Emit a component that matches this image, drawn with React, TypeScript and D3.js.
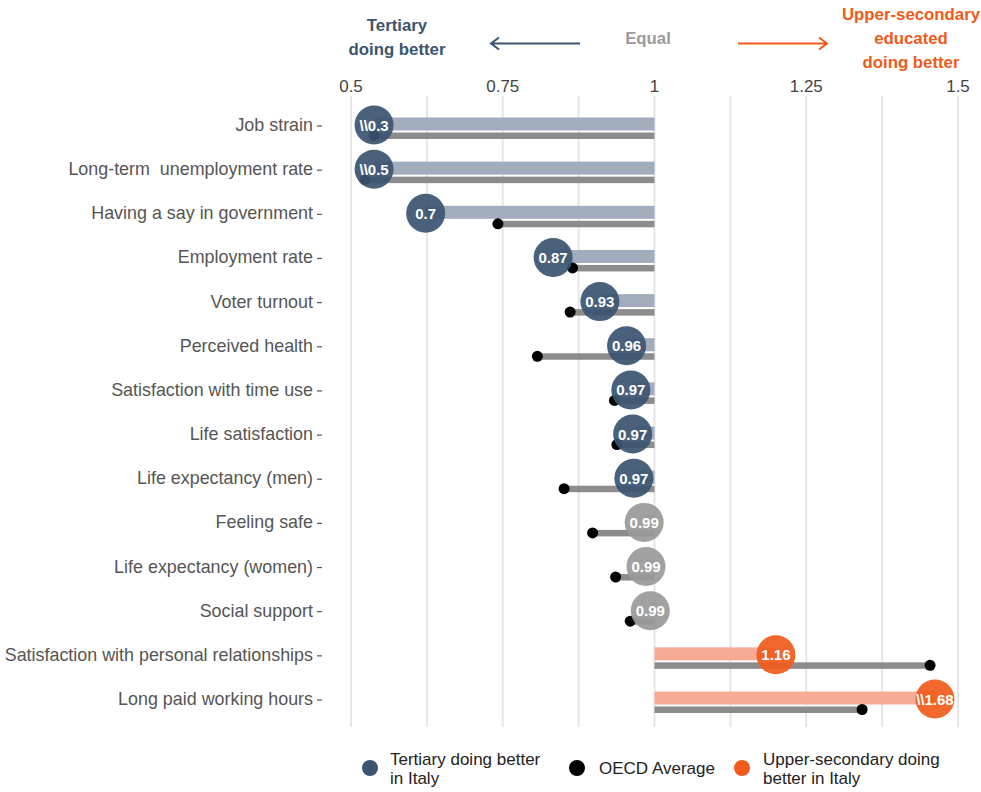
import React, { useEffect, useRef } from "react";
import * as d3 from "d3";

// --- Data ---
const categories = [
  "Job strain",
  "Long-term  unemployment rate",
  "Having a say in government",
  "Employment rate",
  "Voter turnout",
  "Perceived health",
  "Satisfaction with time use",
  "Life satisfaction",
  "Life expectancy (men)",
  "Feeling safe",
  "Life expectancy (women)",
  "Social support",
  "Satisfaction with personal relationships",
  "Long paid working hours",
];
// plotted position of Italy's ratio (clipped values are drawn at the edge)
const italyPos = [0.538, 0.538, 0.623, 0.833, 0.91, 0.954, 0.961, 0.964, 0.966, 0.983, 0.986, 0.993, 1.2, 1.462];
const italyLabels = ["\\\\0.3", "\\\\0.5", "0.7", "0.87", "0.93", "0.96", "0.97", "0.97", "0.97", "0.99", "0.99", "0.99", "1.16", "\\\\1.68"];
const oecdPos = [0.538, 0.523, 0.742, 0.865, 0.861, 0.807, 0.934, 0.938, 0.851, 0.898, 0.936, 0.96, 1.454, 1.342];
const groups = ["tertiary", "tertiary", "tertiary", "tertiary", "tertiary", "tertiary", "tertiary", "tertiary", "tertiary", "equal", "equal", "equal", "upper", "upper"];
const xTicks = [0.5, 0.75, 1, 1.25, 1.5];
const xMinorTicks = [0.625, 0.875, 1.125, 1.375];

const circleColor: Record<string, string> = { tertiary: "#3b5470", equal: "#999999", upper: "#f05a1a" };
const barColor: Record<string, string> = { tertiary: "#a1acbc", equal: "#c8c8c8", upper: "#f7ab93" };

export default function App() {
  const svgRef = useRef<SVGSVGElement>(null);

  useEffect(() => {
    const svg = d3.select(svgRef.current);
    svg.selectAll("*").remove();
    const font = "'Liberation Sans', Arial, sans-serif";
    svg.style("font-family", font);

    const x = d3.scaleLinear().domain([0.5, 1.5]).range([351, 958]);
    const y = d3.scalePoint<string>().domain(categories).range([125, 699]);
    const top = 96, bottom = 727;

    // --- Gridlines ---
    svg.append("g").selectAll("line")
      .data([...xTicks, ...xMinorTicks])
      .join("line")
      .attr("x1", d => x(d)).attr("x2", d => x(d))
      .attr("y1", top).attr("y2", bottom)
      .attr("stroke", "#e6e6e6").attr("stroke-width", 2);

    // --- Top axis ---
    svg.append("g").selectAll("text")
      .data(xTicks)
      .join("text")
      .attr("x", d => x(d)).attr("y", 92)
      .attr("text-anchor", "middle")
      .attr("font-size", 17).attr("fill", "#444")
      .text(d => d3.format("")(d));

    // --- Category labels ---
    const lab = svg.append("g");
    lab.selectAll("text")
      .data(categories)
      .join("text")
      .attr("x", 313).attr("y", d => y(d)! + 6)
      .attr("text-anchor", "end")
      .attr("font-size", 17.9).attr("fill", "#555")
      .style("white-space", "pre")
      .text(d => d);
    lab.selectAll("line")
      .data(categories)
      .join("line")
      .attr("x1", 317).attr("x2", 322)
      .attr("y1", d => y(d)! + 1).attr("y2", d => y(d)! + 1)
      .attr("stroke", "#555").attr("stroke-width", 1.2);

    const rows = categories.map((c, i) => ({ c, i }));

    // --- Italy bars ---
    svg.append("g").selectAll("rect")
      .data(rows)
      .join("rect")
      .attr("x", d => Math.min(x(1), x(italyPos[d.i])))
      .attr("width", d => Math.abs(x(1) - x(italyPos[d.i])))
      .attr("y", d => y(d.c)! - 7.5).attr("height", 13)
      .attr("fill", d => barColor[groups[d.i]]);

    // --- OECD bars ---
    svg.append("g").selectAll("rect")
      .data(rows)
      .join("rect")
      .attr("x", d => Math.min(x(1), x(oecdPos[d.i])))
      .attr("width", d => Math.abs(x(1) - x(oecdPos[d.i])))
      .attr("y", d => y(d.c)! + 7.5).attr("height", 6.5)
      .attr("fill", "#8c8c8c");

    // --- OECD dots ---
    svg.append("g").selectAll("circle")
      .data(rows)
      .join("circle")
      .attr("cx", d => x(oecdPos[d.i]))
      .attr("cy", d => y(d.c)! + 10.5)
      .attr("r", 5.5)
      .attr("fill", "#000");

    // --- Italy circles ---
    const ic = svg.append("g");
    ic.selectAll("circle")
      .data(rows)
      .join("circle")
      .attr("cx", d => x(italyPos[d.i]))
      .attr("cy", d => y(d.c)!)
      .attr("r", 19.5)
      .attr("fill", d => circleColor[groups[d.i]])
      .attr("fill-opacity", 0.92);
    ic.selectAll("text")
      .data(rows)
      .join("text")
      .attr("x", d => x(italyPos[d.i]))
      .attr("y", d => y(d.c)! + 5.5)
      .attr("text-anchor", "middle")
      .attr("font-size", 15).attr("font-weight", "bold")
      .attr("fill", "#fff")
      .text(d => italyLabels[d.i]);

    // --- Header ---
    const hdr = svg.append("g").attr("font-weight", "bold").attr("font-size", 16.8);
    hdr.selectAll("text.tl")
      .data(["Tertiary", "doing better"])
      .join("text")
      .attr("x", 397).attr("y", (d, i) => 31 + i * 24)
      .attr("text-anchor", "middle").attr("fill", "#3b5470")
      .text(d => d);
    hdr.append("text")
      .attr("x", 648).attr("y", 44)
      .attr("text-anchor", "middle").attr("fill", "#9a9a9a")
      .text("Equal");
    hdr.selectAll("text.tr")
      .data(["Upper-secondary", "educated", "doing better"])
      .join("text")
      .attr("x", 911).attr("y", (d, i) => 20 + i * 24)
      .attr("text-anchor", "middle").attr("fill", "#f05a1a")
      .text(d => d);

    // arrows
    svg.append("path")
      .attr("d", "M580,43.5 H491 M499,37.5 L491,43.5 L499,49.5")
      .attr("fill", "none").attr("stroke", "#3b5470").attr("stroke-width", 2);
    svg.append("path")
      .attr("d", "M738,43.5 H827 M819,37.5 L827,43.5 L819,49.5")
      .attr("fill", "none").attr("stroke", "#f05a1a").attr("stroke-width", 2);

    // --- Legend ---
    const legend = [
      { color: "#3b5470", cx: 370, tx: 390, lines: ["Tertiary doing better", "in Italy"] },
      { color: "#000", cx: 577, tx: 599, lines: ["OECD Average"] },
      { color: "#f05a1a", cx: 742, tx: 763, lines: ["Upper-secondary doing", "better in Italy"] },
    ];
    const lg = svg.append("g");
    legend.forEach(l => {
      lg.append("circle").attr("cx", l.cx).attr("cy", 768).attr("r", 8).attr("fill", l.color);
      l.lines.forEach((t, i) => {
        lg.append("text")
          .attr("x", l.tx)
          .attr("y", l.lines.length === 1 ? 774 : 765 + i * 19)
          .attr("font-size", 17).attr("fill", "#222")
          .text(t);
      });
    });
  }, []);

  return (
    <svg ref={svgRef} width={981} height={792} style={{ position: "absolute", left: 0, top: 0 }} />
  );
}
